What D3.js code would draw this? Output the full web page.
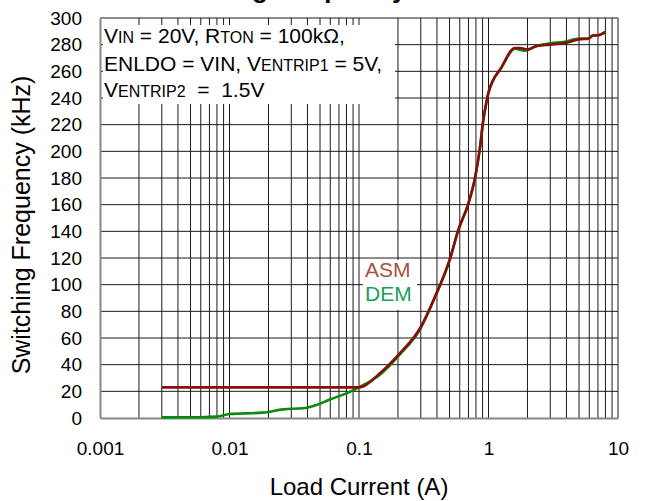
<!DOCTYPE html>
<html>
<head>
<meta charset="utf-8">
<script src="https://cdn.jsdelivr.net/npm/d3@7"></script>
<style>
  body { margin: 0; background: #fff; }
  svg { display: block; font-family: Arial, "Liberation Sans", sans-serif; }
</style>
</head>
<body>
<svg></svg>
<script>
 // load current (A) and switching frequency (kHz)
 var asmCurrent = [0.003, 0.1, 0.145, 0.207, 0.296, 0.386, 0.505, 0.58, 0.70, 0.79, 0.86, 0.91, 0.96, 1.0, 1.26, 1.6, 1.75, 2.0, 2.36, 3.0, 3.78, 5.06, 5.9, 6.4, 7.2, 8.0];
 var asmFreq    = [23, 23, 33.5, 48.6, 67.3, 91, 119.5, 140, 161, 181, 203, 223, 236, 244, 263, 277.5, 277.5, 276.5, 279, 280, 281, 284, 284.5, 286.8, 287.3, 289.6];

 var demCurrent = [0.003, 0.006, 0.008, 0.01, 0.018, 0.026, 0.037, 0.047, 0.06, 0.08, 0.1, 0.145, 0.207, 0.296, 0.386, 0.505, 0.58, 0.70, 0.79, 0.86, 0.91, 0.96, 1.0, 1.26, 1.6, 1.9, 2.36, 3.0, 3.78, 5.06, 5.9, 6.4, 7.2, 8.0];
 var demFreq    = [0.5, 0.6, 1, 3, 4, 6.5, 7.3, 9.8, 14, 18.5, 23, 32.5, 47.8, 66.5, 90.5, 119.5, 140, 161, 181, 203, 223, 236, 244, 263, 277, 275.5, 279, 281, 282, 284.5, 284.5, 286.8, 287.3, 289.6];

 var xTicks = [0.001, 0.01, 0.1, 1, 10];
 var xTickLabels = ["0.001", "0.01", "0.1", "1", "10"];
 var yTicks = d3.range(0, 301, 20);

 var svgWidth = 647, svgHeight = 501;
 var plotLeft = 100, plotRight = 618, plotTop = 18, plotBottom = 418;

 var svg = d3.select('svg')
     .attr("width", svgWidth)
     .attr("height", svgHeight);

 var x = d3.scaleLog().domain([0.001, 10]).range([plotLeft, plotRight]);
 var y = d3.scaleLinear().domain([0, 300]).range([plotBottom, plotTop]);

 // title, cut off by the top edge
 svg.append("text")
     .attr("x", 145)
     .attr("y", -2)
     .attr("font-size", 26)
     .attr("font-weight", "bold")
     .text("Switching Frequency vs. Load Current");

 // grid
 var minor = [];
 [0.001, 0.01, 0.1, 1].forEach(function(d) {
     for (var k = 2; k <= 10; k++) minor.push(d * k);
 });

 svg.append("g").selectAll("line")
     .data(minor)
     .enter()
     .append("line")
     .attr("x1", d => x(d)).attr("x2", d => x(d))
     .attr("y1", plotTop).attr("y2", plotBottom)
     .attr("stroke", "#1a1a1a")
     .attr("stroke-width", 1);

 svg.append("g").selectAll("line")
     .data(yTicks.slice(1))
     .enter()
     .append("line")
     .attr("x1", plotLeft).attr("x2", plotRight)
     .attr("y1", d => y(d)).attr("y2", d => y(d))
     .attr("stroke", "#1a1a1a")
     .attr("stroke-width", 1);

 // axes
 var xAxis = svg.append("g")
     .attr("transform", "translate(0," + plotBottom + ")")
     .call(d3.axisBottom(x)
         .tickValues(xTicks)
         .tickFormat((d, i) => xTickLabels[i])
         .tickSize(0)
         .tickPadding(24));

 var yAxis = svg.append("g")
     .attr("transform", "translate(" + plotLeft + ",0)")
     .call(d3.axisLeft(y)
         .tickValues(yTicks)
         .tickSize(0)
         .tickPadding(18));

 [xAxis, yAxis].forEach(function(a) {
     a.select(".domain").attr("stroke", "#888").attr("stroke-width", 2);
     a.selectAll("text")
         .attr("font-size", 19)
         .attr("font-family", "Arial, 'Liberation Sans', sans-serif")
         .attr("fill", "#000");
 });

 // curves
 var line = d3.line()
     .x(d => x(d[0]))
     .y(d => y(d[1]))
     .curve(d3.curveMonotoneX);

 svg.append("path")
     .datum(d3.zip(demCurrent, demFreq))
     .attr("d", line)
     .attr("fill", "none")
     .attr("stroke", "#0a8a0a")
     .attr("stroke-width", 2.6);

 svg.append("path")
     .datum(d3.zip(asmCurrent, asmFreq))
     .attr("d", line)
     .attr("fill", "none")
     .attr("stroke", "#8b0c0c")
     .attr("stroke-width", 2.6);

 // condition box
 svg.append("rect")
     .attr("x", 103).attr("y", 25)
     .attr("width", 292).attr("height", 79)
     .attr("fill", "#fff");

 var note = svg.append("text")
     .attr("font-size", 21)
     .attr("fill", "#000");

 var lines = [
     [["V", 0], ["IN", 1], [" = 20V, R", 0], ["TON", 1], [" = 100k\u03A9,", 0]],
     [["ENLDO = VIN, V", 0], ["ENTRIP1", 1], [" = 5V,", 0]],
     [["V", 0], ["ENTRIP2", 1], ["  =  1.5V", 0]]
 ];
 var baselines = [43, 71, 97];

 lines.forEach(function(parts, i) {
     parts.forEach(function(p, j) {
         var t = note.append("tspan")
             .attr("xml:space", "preserve")
             .style("white-space", "pre")
             .attr("font-size", p[1] ? 16 : 21)
             .text(p[0]);
         if (j === 0) t.attr("x", 104).attr("y", baselines[i]);
     });
 });

 // legend
 svg.append("rect")
     .attr("x", 363).attr("y", 260)
     .attr("width", 54).attr("height", 50)
     .attr("fill", "#fff");

 svg.append("text")
     .attr("x", 365).attr("y", 277)
     .attr("font-size", 21)
     .attr("fill", "#a5533f")
     .text("ASM");

 svg.append("text")
     .attr("x", 365).attr("y", 301)
     .attr("font-size", 21)
     .attr("fill", "#16a05a")
     .text("DEM");

 // axis titles
 svg.append("text")
     .attr("x", (plotLeft + plotRight) / 2)
     .attr("y", 495)
     .attr("text-anchor", "middle")
     .attr("font-size", 24)
     .text("Load Current (A)");

 svg.append("text")
     .attr("transform", "translate(30,225) rotate(-90)")
     .attr("text-anchor", "middle")
     .attr("font-size", 25)
     .text("Switching Frequency (kHz)");
</script>
</body>
</html>
